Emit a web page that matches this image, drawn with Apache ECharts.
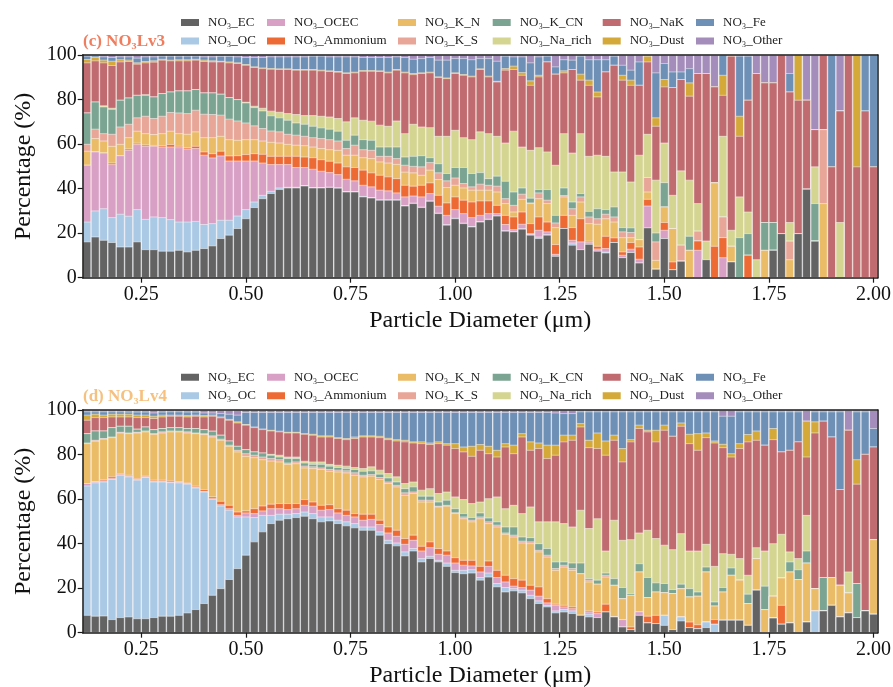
<!DOCTYPE html>
<html><head><meta charset="utf-8">
<script src="https://cdn.jsdelivr.net/npm/echarts@6/dist/echarts.min.js"></script>
<style>html,body{margin:0;padding:0;background:#fff}#c{width:893px;height:687px}</style>
</head><body><div id="c"></div>
<script>
const diameters = [0.12,0.14,0.16,0.18,0.20,0.22,0.24,0.26,0.28,0.30,
0.32,0.34,0.36,0.38,0.40,0.42,0.44,0.46,0.48,0.50,
0.52,0.54,0.56,0.58,0.60,0.62,0.64,0.66,0.68,0.70,
0.72,0.74,0.76,0.78,0.80,0.82,0.84,0.86,0.88,0.90,
0.92,0.94,0.96,0.98,1.00,1.02,1.04,1.06,1.08,1.10,
1.12,1.14,1.16,1.18,1.20,1.22,1.24,1.26,1.28,1.30,
1.32,1.34,1.36,1.38,1.40,1.42,1.44,1.46,1.48,1.50,
1.52,1.54,1.56,1.58,1.60,1.62,1.64,1.66,1.68,1.70,
1.72,1.74,1.76,1.78,1.80,1.82,1.84,1.86,1.88,1.90,
1.92,1.94,1.96,1.98,2.00];
const xTicks = [0.25,0.50,0.75,1.00,1.25,1.50,1.75,2.00];
const names = ['NO₃_EC','NO₃_OC','NO₃_OCEC','NO₃_Ammonium','NO₃_K_N','NO₃_K_S','NO₃_K_CN','NO₃_Na_rich','NO₃_NaK','NO₃_Dust','NO₃_Fe','NO₃_Other'];
const colors = ['#636363','#aac9e5','#d9a0c6','#ee6a35','#ebbc68','#e8a698','#7ba592','#d4d590','#c06b6f','#d4a93a','#6e90b6','#a48cbb'];

// ---- (c) NO3Lv3 : cumulative top (%) of each class, bottom->top (NO3_Other fills to 100) ----
const lv3_EC = [16.2,18.4,16.9,15.9,13.9,13.9,16.2,12.7,12.7,12.0,
12.0,12.4,11.7,12.4,13.2,14.4,17.7,19.2,22.2,26.6,
31.6,35.6,37.9,39.7,40.4,40.4,41.3,40.4,40.4,40.6,
40.3,38.6,38.6,36.4,35.9,34.9,34.9,34.9,32.3,33.4,
31.6,34.4,28.9,23.7,26.6,24.4,22.9,25.1,26.2,27.8,
21.0,20.7,21.9,19.2,17.7,19.2,9.7,22.2,14.7,12.7,
15.1,12.0,11.2,15.9,9.1,11.4,6.7,22.5,3.9,17.7,
3.7,7.5,0,0,8.2,0,0,7.2,0,0,
0,0,12.4,19.9,0,19.9,39.8,16.5,0,0,
0,0,0,0,0];
const lv3_OC = [25.1,30.1,31.1,27.1,28.6,27.7,30.7,26.3,27.4,27.1,
26.2,25.1,25.1,25.4,24.0,24.4,25.9,25.9,27.8,30.7,
34.1,37.1,38.9,40.4,40.7,40.7,41.5,40.6,40.6,40.8,
40.5,38.8,38.8,36.6,36.1,35.1,35.1,35.1,32.5,33.6,
31.8,34.6,29.1,23.9,26.8,24.6,23.1,25.3,26.4,27.8,
21.2,20.9,22.1,19.4,18.4,19.4,9.7,22.2,15.7,12.7,
15.1,12.0,11.6,15.9,9.1,11.4,6.7,22.5,3.9,17.7,
3.7,7.5,0,0,8.2,0,0,7.2,0,0,
0,0,12.4,19.9,0,19.9,39.8,16.5,0,0,
0,0,0,0,0];
const lv3_OCEC = [50.6,56.6,56.1,50.9,54.9,57.3,59.9,59.1,59.1,58.8,
58.8,58.5,57.8,58.1,55.1,53.9,54.8,52.5,52.5,52.5,
52.5,51.6,50.9,50.9,50.9,49.6,49.6,48.8,47.9,47.3,
46.4,44.3,43.6,41.6,40.9,39.4,39.1,38.2,36.4,36.8,
36.4,37.9,32.2,28.1,30.7,28.9,27.1,28.1,28.9,28.9,
24.0,21.7,24.1,19.9,21.4,20.7,10.6,22.2,16.9,16.2,
16.0,13.0,13.2,15.9,10.2,12.9,8.4,32.3,3.9,21.4,
3.7,7.5,0,12.4,8.2,0,9.1,7.2,0,0,
0,0,12.4,19.9,0,19.9,39.8,16.5,0,0,
0,0,0,0,0];
const lv3_Ammonium = [50.6,56.6,56.1,51.6,54.9,57.9,60.5,59.7,59.5,59.4,
59.9,59.1,58.4,59.1,56.6,55.8,56.9,54.8,54.9,55.4,
55.8,55.5,54.6,54.6,54.6,54.6,54.3,54.0,53.1,52.4,
51.6,49.9,49.6,48.4,47.2,46.1,45.4,44.6,41.6,41.2,
41.6,42.7,37.1,33.7,36.4,34.9,34.1,34.6,34.6,32.6,
28.1,27.4,29.6,24.4,27.4,25.1,15.0,28.1,22.6,26.6,
16.5,14.2,18.7,18.0,11.7,15.9,13.9,35.3,3.9,24.9,
7.2,7.5,0,16.6,8.2,14.2,18.1,7.2,0,10.2,
0,0,12.4,19.9,0,19.9,39.8,16.5,0,0,
0,0,0,0,0];
const lv3_K_N = [56.9,62.6,61.5,59.1,60.0,63.0,65.9,64.8,64.4,64.8,
65.9,64.8,64.5,65.6,63.0,63.0,63.6,62.1,61.8,62.1,
62.1,61.5,60.9,60.6,60.0,59.6,59.4,58.8,58.1,57.6,
57.3,55.1,55.1,54.0,53.6,52.1,51.6,51.0,47.5,47.2,
46.1,48.4,44.2,40.6,41.6,40.4,39.4,39.4,39.4,38.6,
33.4,29.6,35.3,33.4,35.6,33.4,22.6,36.4,28.1,34.1,
24.4,24.1,26.6,25.1,18.1,18.1,17.2,38.6,7.9,31.9,
22.2,7.5,12.4,16.6,8.2,42.7,18.1,14.2,0,10.2,
0,12.4,12.4,19.9,8.2,19.9,39.8,16.5,33.4,0,
0,0,0,0,0];
const lv3_K_S = [60.0,66.8,64.8,64.5,67.8,69.0,71.9,72.6,71.6,72.6,
74.3,74.1,73.8,75.3,73.5,73.4,73.1,71.3,70.5,69.6,
68.3,67.1,66.0,65.6,64.5,64.1,63.6,63.0,62.6,62.1,
61.5,58.1,59.6,57.6,57.3,54.6,54.6,53.6,50.6,50.1,
49.9,51.8,47.2,43.6,44.9,42.4,40.9,42.1,41.6,41.2,
35.6,32.6,37.6,33.7,38.2,34.9,24.7,37.0,31.1,36.4,
27.4,26.6,28.6,27.4,20.7,20.4,17.2,45.1,16.2,31.9,
22.2,14.7,12.4,21.0,8.2,42.7,27.4,14.2,0,10.2,
0,12.4,12.4,19.9,16.5,19.9,39.8,16.5,66.6,0,
0,0,0,0,0];
const lv3_K_CN = [74.1,79.0,76.8,75.7,79.8,80.8,82.0,82.0,81.3,82.8,
83.5,84.0,84.0,84.6,83.1,83.1,82.5,81.0,80.1,78.6,
76.5,75.0,72.8,71.9,70.8,69.6,69.0,68.1,67.4,66.8,
65.9,61.8,64.1,62.1,61.8,58.8,58.8,58.8,54.3,54.6,
54.9,54.0,51.3,46.9,49.6,49.6,46.9,47.3,44.6,45.7,
43.4,38.6,40.4,35.8,39.7,39.7,28.1,40.4,34.1,37.9,
29.9,31.1,30.7,31.9,22.6,22.5,17.2,45.1,20.2,42.8,
22.2,14.7,18.7,21.0,8.2,42.7,27.4,14.2,18.1,19.9,
0,24.9,24.9,19.9,16.5,19.9,39.8,33.4,66.6,0,
0,0,0,0,0];
const lv3_Na_rich = [74.1,79.0,77.3,76.2,79.8,80.8,82.0,82.3,81.3,82.8,
83.5,84.0,84.0,84.6,83.1,83.1,82.5,81.0,80.1,78.9,
77.1,76.2,74.9,74.4,73.8,73.4,72.9,72.9,72.6,72.3,
71.6,70.1,71.9,70.8,70.4,68.6,68.1,70.5,64.8,69.0,
67.8,67.5,63.6,63.6,66.3,63.0,62.1,65.6,64.8,63.6,
60.6,65.9,58.8,57.3,58.5,56.6,50.6,64.8,56.1,64.8,
54.6,55.1,54.6,47.6,47.6,43.1,55.1,64.5,43.9,60.6,
37.1,48.1,43.9,33.4,16.6,42.7,63.6,21.4,36.4,29.6,
8.2,24.9,24.9,19.9,24.9,19.9,39.8,49.9,66.6,0,
24.9,0,0,0,0];
const lv3_NaK = [96.6,97.5,96.6,95.4,97.0,97.2,96.0,96.6,96.9,97.8,
97.5,97.5,97.5,97.8,97.2,97.0,97.0,96.6,96.3,95.5,
94.5,94.0,93.7,93.6,93.6,93.3,93.3,93.3,93.0,92.7,
92.4,91.8,92.1,92.8,92.8,92.7,92.1,93.3,92.1,91.3,
91.8,92.1,90.0,89.5,91.8,91.0,90.3,93.6,90.3,88.0,
93.3,93.6,91.0,86.5,90.3,97.0,91.5,92.1,93.6,88.8,
86.5,81.3,92.5,95.5,88.8,86.5,86.5,97.0,68.1,85.8,
85.5,89.1,81.6,91.8,91.8,85.8,82.0,99.6,63.6,79.8,
91.8,87.6,87.6,100,83.5,79.8,79.8,66.6,100,49.9,
75.0,100,49.9,75.0,49.9];
const lv3_Dust = [98.1,99.0,97.8,97.3,98.0,97.8,96.6,97.2,97.5,98.2,
97.8,98.0,98.0,98.2,97.8,97.5,97.3,97.0,96.6,95.8,
94.8,94.3,94.0,93.9,93.9,93.6,93.6,93.6,93.3,93.0,
92.7,92.1,92.4,93.1,93.1,93.0,92.4,93.6,92.4,91.8,
92.1,92.4,90.3,89.8,92.1,91.3,90.6,93.9,90.6,88.3,
94.0,95.1,92.2,88.5,91.0,97.0,91.5,93.0,93.6,91.5,
88.8,83.5,92.5,95.5,91.0,88.8,86.5,99.6,71.9,89.1,
85.5,89.1,87.6,91.8,91.8,85.8,91.0,99.6,72.6,79.8,
91.8,87.6,87.6,100,83.5,100,79.8,66.6,100,49.9,
75.0,100,100,75.0,49.9];
const lv3_Fe = [99.6,99.7,99.3,99.0,99.3,99.3,98.7,99.3,99.3,99.6,
99.6,99.6,99.6,99.6,99.3,99.3,99.5,99.5,99.3,99.0,
99.0,99.0,99.3,99.3,99.3,99.3,99.3,99.6,99.6,99.3,
99.3,99.3,99.3,99.0,99.0,99.0,99.0,99.3,99.0,98.2,
98.5,99.0,97.8,97.8,98.5,98.5,98.0,98.5,98.5,97.3,
99.6,99.3,99.3,96.6,99.3,99.6,94.8,98.0,97.8,99.6,
98.0,98.0,98.0,99.6,95.5,93.3,97.0,99.6,92.1,96.3,
92.5,92.5,94.0,91.8,91.8,85.8,100,99.6,99.6,99.6,
91.8,87.6,87.6,100,91.8,100,79.8,66.6,100,100,
75.0,100,100,100,100];

// ---- (d) NO3Lv4 : cumulative top (%) of each class, bottom->top (NO3_Other fills to 100) ----
const lv4_EC = [7.9,7.5,7.6,6.0,6.9,7.2,6.4,6.4,6.9,7.5,
7.5,7.9,9.0,10.5,13.2,16.9,19.9,24.0,28.9,34.9,
40.9,45.4,49.1,50.6,51.3,51.8,52.4,51.3,49.9,50.3,
49.1,48.1,47.2,46.1,46.1,43.9,40.1,39.1,34.6,36.8,
31.9,33.4,31.9,29.9,27.1,26.6,26.9,23.7,25.1,20.7,
18.4,18.9,18.0,15.4,13.2,11.7,9.0,9.4,8.7,7.9,
7.2,6.9,9.4,7.2,2.7,1.5,7.9,4.5,4.2,3.4,
1.5,5.4,2.4,1.9,2.4,0,5.7,5.7,5.7,3.4,
19.2,0,6.7,3.9,4.5,0,4.9,0,9.9,12.4,
7.2,9.0,6.9,9.9,8.4];
const lv4_OC = [66.0,67.4,67.8,68.9,70.8,70.1,68.6,69.8,67.8,67.8,
67.5,67.4,66.8,65.1,63.3,60.0,57.0,55.1,52.1,52.1,
51.8,52.8,52.8,53.3,53.3,53.6,54.3,53.6,52.1,52.1,
50.6,49.9,49.1,47.6,47.6,45.4,41.6,40.4,36.4,37.9,
33.4,34.4,32.6,31.4,28.1,28.1,28.4,24.9,26.9,22.2,
20.4,19.9,19.2,16.9,14.4,12.4,9.9,10.5,9.9,7.9,
8.4,6.9,9.4,7.2,2.7,1.5,7.9,4.5,4.2,7.9,
1.5,7.2,2.4,1.9,4.9,3.9,5.7,5.7,5.7,3.4,
19.2,0,6.7,3.9,4.5,0,4.9,9.9,9.9,12.4,
7.2,9.0,6.9,9.9,8.4];
const lv4_OCEC = [67.1,67.8,68.3,69.4,71.1,70.4,68.9,70.1,68.1,68.1,
67.8,67.7,67.1,65.4,63.6,60.3,57.6,55.8,52.8,53.9,
53.6,54.8,55.8,55.8,55.4,55.8,57.3,56.9,55.1,55.4,
53.9,52.8,52.1,50.6,51.0,48.7,44.9,43.4,39.8,41.6,
36.8,38.3,35.3,34.9,31.4,30.4,30.1,27.4,29.9,24.9,
22.9,21.0,20.4,19.2,16.5,13.5,12.4,11.7,10.9,7.9,
9.4,8.7,9.4,7.2,6.0,1.5,9.5,4.5,4.2,7.9,
1.5,7.2,2.4,1.9,4.9,3.9,5.7,5.7,5.7,3.4,
19.2,0,6.7,3.9,4.5,0,4.9,9.9,9.9,12.4,
7.2,9.0,6.9,9.9,8.4];
const lv4_Ammonium = [67.1,68.0,68.9,70.1,71.6,70.8,69.3,70.4,68.6,68.6,
68.3,67.9,67.4,65.9,64.4,61.1,59.1,57.3,54.3,54.8,
55.8,57.0,57.8,58.1,58.1,58.1,59.9,58.8,57.3,57.6,
55.8,55.1,53.6,53.3,53.3,50.6,47.6,46.1,42.4,43.9,
38.9,40.9,37.9,36.8,33.8,32.6,32.6,29.9,32.3,28.1,
25.9,24.4,23.7,21.4,20.7,15.4,12.9,12.4,11.7,7.9,
9.9,9.4,12.9,7.2,6.0,2.7,9.5,7.5,7.9,7.9,
1.5,7.2,4.9,3.7,4.9,6.0,5.7,5.7,5.7,3.4,
19.2,0,6.7,12.4,4.5,0,4.9,9.9,9.9,12.4,
7.2,9.0,6.9,9.9,8.4];
const lv4_K_N = [85.0,86.1,87.0,87.7,89.8,89.5,89.8,90.3,89.2,89.8,
90.3,90.3,89.8,89.5,89.1,88.0,86.5,83.8,81.3,79.3,
78.7,77.8,77.2,76.8,75.7,76.0,74.1,73.8,73.4,72.6,
72.3,71.9,70.8,70.1,70.4,68.9,67.1,65.6,61.8,62.6,
58.8,58.8,56.6,56.9,53.6,51.3,49.9,51.3,49.1,47.6,
44.3,43.1,40.4,40.1,36.4,34.1,28.1,29.6,28.1,26.6,
22.9,21.9,25.1,21.4,15.4,16.9,27.4,15.9,18.4,18.1,
17.7,19.9,16.2,16.5,27.4,12.1,18.4,25.9,23.7,13.2,
33.4,10.5,16.5,24.7,27.4,24.0,31.4,19.9,9.9,24.9,
21.4,18.0,6.9,9.9,41.9];
const lv4_K_S = [85.3,86.5,87.3,88.0,90.1,89.8,90.1,90.7,89.5,90.3,
90.7,90.6,90.3,89.8,89.5,88.5,87.0,84.3,82.0,80.5,
79.8,79.0,78.3,77.8,76.3,76.8,74.9,74.6,74.1,73.4,
73.1,72.8,71.9,70.8,71.1,69.8,67.8,66.3,62.9,63.3,
59.6,59.6,56.9,57.3,54.0,52.1,50.6,52.1,49.9,48.4,
44.9,43.9,41.2,40.9,37.1,34.9,28.9,30.4,28.9,26.6,
23.7,21.9,25.9,21.4,15.4,16.9,27.4,15.9,18.4,18.1,
17.7,19.9,16.2,16.5,27.4,12.1,18.4,25.9,23.7,13.2,
33.4,10.5,16.5,24.7,27.4,24.0,31.4,19.9,9.9,24.9,
21.4,18.0,6.9,9.9,41.9];
const lv4_K_CN = [89.5,90.7,90.7,92.2,92.8,92.8,91.5,92.5,91.3,91.8,
92.2,92.2,91.8,91.8,91.3,90.6,88.8,86.2,83.8,82.3,
81.3,80.8,79.8,79.0,78.3,78.3,76.3,75.7,75.7,74.9,
74.3,73.8,73.4,72.6,72.8,71.3,69.6,67.8,64.8,65.6,
61.4,61.4,58.8,59.6,55.8,53.6,51.8,53.9,51.6,49.9,
47.6,47.6,43.1,42.8,40.1,37.9,31.9,31.9,31.4,31.4,
24.4,23.7,26.9,24.4,20.4,17.7,31.1,24.9,22.5,22.2,
19.5,21.9,19.9,18.4,29.6,13.9,20.4,29.2,23.7,17.4,
33.4,21.0,16.5,24.7,31.9,28.4,36.8,19.9,24.9,24.9,
21.4,18.0,22.2,9.9,41.9];
const lv4_Na_rich = [89.5,90.7,90.7,92.2,92.8,92.8,91.5,92.5,91.3,91.8,
92.2,92.2,91.8,91.8,91.3,90.6,88.8,86.2,83.8,82.3,
81.3,80.8,80.2,79.8,79.0,79.0,77.1,76.8,76.8,75.7,
75.3,74.9,74.3,73.8,74.6,73.1,71.6,70.1,67.1,67.8,
64.1,64.8,62.6,63.3,61.1,59.9,58.1,58.8,60.3,61.1,
55.8,57.3,53.6,56.6,49.9,49.9,49.9,49.1,47.6,55.1,
46.9,51.3,36.8,50.6,41.6,41.9,44.9,46.1,42.4,39.4,
37.4,44.6,36.8,36.8,39.8,29.9,35.6,35.3,33.4,25.9,
38.3,36.8,40.1,44.3,36.4,33.4,52.8,19.9,24.9,24.9,
21.4,27.4,22.2,9.9,41.9];
const lv4_NaK = [95.5,96.7,96.7,97.0,97.0,97.0,96.7,96.7,96.3,97.0,
97.3,97.3,97.0,97.3,97.0,97.3,96.6,95.5,94.3,93.3,
92.2,91.3,90.7,90.3,89.8,89.8,89.2,88.8,88.0,88.0,
87.3,86.8,87.3,88.0,88.0,87.7,86.8,86.2,85.8,85.3,
85.0,84.6,85.0,84.3,82.8,81.3,79.3,82.0,80.5,79.0,
83.5,80.5,88.0,82.0,82.8,78.3,79.8,85.8,86.5,92.5,
83.2,82.8,79.8,86.5,76.8,85.8,91.8,90.3,85.8,91.0,
88.3,92.8,85.0,82.0,87.7,85.3,83.2,79.0,82.8,85.8,
86.5,84.3,86.8,81.3,82.0,85.8,79.0,89.8,95.1,88.0,
64.4,91.0,66.8,80.2,83.5];
const lv4_Dust = [97.8,98.2,97.8,98.2,98.2,98.2,97.8,97.8,97.3,97.8,
97.8,97.8,97.6,97.8,97.6,97.8,97.0,95.9,94.8,93.6,
92.5,91.6,91.0,90.6,90.1,90.1,89.5,89.2,88.5,88.5,
87.7,87.3,88.0,88.5,88.5,88.3,87.4,86.8,86.5,85.8,
85.8,85.3,85.8,85.0,85.0,83.5,83.8,84.6,83.8,82.0,
85.0,84.3,89.5,85.8,85.3,84.3,84.3,88.8,88.8,94.0,
86.5,89.8,86.2,88.8,82.8,86.8,93.3,91.0,91.0,93.3,
88.3,94.3,89.2,89.5,89.8,86.2,84.7,80.5,85.0,89.1,
90.7,84.3,91.8,81.3,82.0,85.8,95.1,94.8,95.1,88.0,
64.4,91.0,77.8,80.2,83.5];
const lv4_Fe = [99.3,99.3,99.3,99.3,99.3,99.2,99.2,99.2,98.8,99.2,
99.3,99.3,99.2,99.2,98.8,98.8,98.5,98.2,97.8,99.0,
99.0,99.0,99.0,99.0,99.0,99.0,99.0,99.0,99.0,99.0,
99.0,99.0,99.0,99.0,99.0,99.0,99.0,99.0,99.0,99.0,
99.0,99.0,99.0,99.0,99.0,99.0,99.0,99.0,99.0,99.0,
99.0,99.0,99.0,99.0,99.0,99.0,98.8,98.5,98.5,99.3,
99.3,99.3,99.3,99.3,99.3,99.3,99.3,99.3,99.3,99.3,
99.3,99.3,99.3,99.3,99.3,99.3,97.3,97.3,99.3,99.3,
99.3,99.3,99.3,99.3,99.3,99.3,95.1,99.3,99.3,99.3,
99.3,91.0,99.3,99.3,91.8];

const lv3Tops = [lv3_EC,lv3_OC,lv3_OCEC,lv3_Ammonium,lv3_K_N,lv3_K_S,lv3_K_CN,lv3_Na_rich,lv3_NaK,lv3_Dust,lv3_Fe];
const lv4Tops = [lv4_EC,lv4_OC,lv4_OCEC,lv4_Ammonium,lv4_K_N,lv4_K_S,lv4_K_CN,lv4_Na_rich,lv4_NaK,lv4_Dust,lv4_Fe];

// cumulative top of each class (kept monotone); the last class reaches 100 %
function cumulative(tops){
  const out = []; let prev = diameters.map(()=>0);
  for (let s = 0; s < names.length; s++){
    const top = s < tops.length ? tops[s].map((v,i)=>Math.max(v, prev[i])) : diameters.map(()=>100);
    out.push(top.map((v,i)=>[diameters[i], v]));
    prev = top;
  }
  return out;
}

const FONT = 'Liberation Serif, DejaVu Serif, serif';
const GL = 82.7, GW = 795, GH = 222.7, G1T = 55, G2T = 410;
const XMIN = 0.11, XMAX = 2.01;
const barW = GW / ((XMAX - XMIN) / 0.02);

function xAx(gi, main){
  return {
    type:'value', gridIndex:gi, min:XMIN, max:XMAX, position: main ? 'bottom' : 'top', z:10,
    axisLine:{show:true, onZero:false, lineStyle:{color:'#1a1a1a', width:1.5}},
    axisTick:{show:main, customValues:xTicks, length:5, lineStyle:{color:'#1a1a1a', width:1.2}},
    axisLabel:{show:main, customValues:xTicks, formatter:v=>v.toFixed(2), fontFamily:FONT, fontSize:20, color:'#111', margin:7},
    splitLine:{show:false},
    name: main ? 'Particle Diameter (μm)' : '', nameLocation:'middle', nameGap:31,
    nameTextStyle:{fontFamily:FONT, fontSize:24, color:'#111'}
  };
}
function yAx(gi, main){
  return {
    type:'value', gridIndex:gi, min:0, max:100, interval:20, position: main ? 'left' : 'right', z:10,
    axisLine:{show:true, onZero:false, lineStyle:{color:'#1a1a1a', width:1.5}},
    axisTick:{show:main, length:5, lineStyle:{color:'#1a1a1a', width:1.2}},
    axisLabel:{show:main, fontFamily:FONT, fontSize:20, color:'#111', margin:6},
    splitLine:{show:false},
    name: main ? 'Percentage (%)' : '', nameLocation:'middle', nameGap:41,
    nameTextStyle:{fontFamily:FONT, fontSize:24, color:'#111'}
  };
}

// each class is drawn as a bar reaching its cumulative top; upper classes first, lower ones over them
const series = [];
[[lv3Tops,0],[lv4Tops,1]].forEach(([tops,gi])=>{
  const cum = cumulative(tops);
  for (let s = names.length - 1; s >= 0; s--){
    series.push({
      type:'bar', name:names[s], xAxisIndex:gi*2, yAxisIndex:gi*2,
      barWidth:barW, barGap:'-100%', data:cum[s], color:colors[s],
      itemStyle:{color:colors[s], borderColor:'#ffffff', borderWidth:0.5},
      emphasis:{disabled:true}, silent:true
    });
  }
});

const legendCols = [179, 265, 396, 490.7, 600.7, 694];
const legends = [];
[15.5, 370.3].forEach(top=>{
  legendCols.forEach((left,c)=>{
    legends.push({
      orient:'vertical', left:left, top:top, itemWidth:20, itemHeight:9, itemGap:4.5,
      icon:'rect', selectedMode:false, padding:0,
      data:[names[2*c], names[2*c+1]],
      textStyle:{fontFamily:FONT, fontSize:13, color:'#222', lineHeight:14, padding:[0,0,0,3]}
    });
  });
});

const chart = echarts.init(document.getElementById('c'), null, {renderer:'canvas'});
chart.setOption({
  animation:false,
  backgroundColor:'#ffffff',
  title:[
    {text:'(c) NO₃Lv3', left:83, top:33, padding:0, textStyle:{fontFamily:FONT, fontSize:17, fontWeight:'bold', color:'#f07d5e'}},
    {text:'(d) NO₃Lv4', left:83, top:388, padding:0, textStyle:{fontFamily:FONT, fontSize:17, fontWeight:'bold', color:'#f6c17f'}}
  ],
  legend:legends,
  grid:[
    {left:GL, top:G1T, width:GW, height:GH, outerBoundsMode:'none'},
    {left:GL, top:G2T, width:GW, height:GH, outerBoundsMode:'none'}
  ],
  xAxis:[xAx(0,true), xAx(0,false), xAx(1,true), xAx(1,false)],
  yAxis:[yAx(0,true), yAx(0,false), yAx(1,true), yAx(1,false)],
  series:series
});
</script>
</body></html>
